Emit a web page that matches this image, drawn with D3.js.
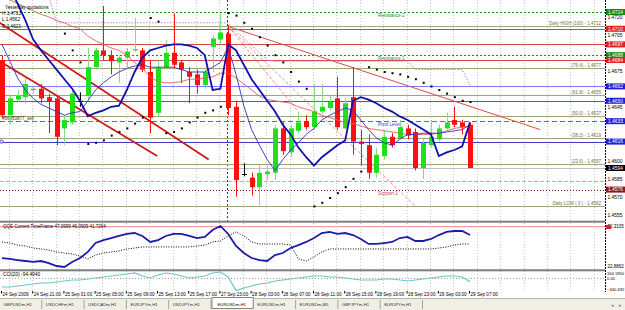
<!DOCTYPE html>
<html>
<head>
<meta charset="utf-8">
<script src="https://cdn.jsdelivr.net/npm/d3@7"></script>
<style>
  body { margin: 0; background: #fff; }
  svg { display: block; font-family: "Liberation Sans", Arial, sans-serif; }
  .axis path { display: none; }
</style>
</head>
<body>
<div id="chart"></div>
<script>
// ---- chart data (EURUSDm, H1) ----
var timeLabels = ["24 Sep 2009", "24 Sep 21:00", "25 Sep 01:00", "25 Sep 05:00", "25 Sep 09:00",
  "25 Sep 13:00", "25 Sep 17:00", "27 Sep 23:00", "28 Sep 03:00", "28 Sep 07:00", "28 Sep 11:00",
  "28 Sep 15:00", "28 Sep 19:00", "28 Sep 23:00", "29 Sep 03:00", "29 Sep 07:00"];

var open  = [1.4684,1.4638,1.4651,1.4653,1.4659,1.4660,1.4653,1.4652,1.4627,1.4632,1.4650,1.4654,1.4678,1.4692,1.4688,1.4682,1.4686,1.4692,1.4692,1.4674,1.4640,1.4678,1.4690,1.4682,1.4674,1.4672,1.4663,1.4695,1.4701,1.4706,1.4645,1.4589,1.4586,1.4578,1.4589,1.4590,1.4627,1.4607,1.4625,1.4633,1.4628,1.4641,1.4644,1.4652,1.4627,1.4653,1.4616,1.4613,1.4590,1.4604,1.4620,1.4619,1.4627,1.4624,1.4594,1.4613,1.4618,1.4627,1.4634,1.4632,1.4630];
var high  = [1.4688,1.4654,1.4659,1.4669,1.4661,1.4664,1.4656,1.4654,1.4638,1.4659,1.4657,1.4694,1.4694,1.4729,1.4692,1.4688,1.4694,1.4719,1.4694,1.4684,1.4684,1.4701,1.4723,1.4684,1.4678,1.4676,1.4678,1.4705,1.4723,1.4713,1.4650,1.4598,1.4590,1.4596,1.4596,1.4630,1.4632,1.4630,1.4641,1.4638,1.4664,1.4664,1.4654,1.4670,1.4652,1.4678,1.4626,1.4622,1.4611,1.4626,1.4623,1.4634,1.4630,1.4627,1.4618,1.4634,1.4630,1.4640,1.4645,1.4634,1.4632];
var low   = [1.4636,1.4630,1.4649,1.4648,1.4656,1.4648,1.4623,1.4613,1.4613,1.4630,1.4645,1.4650,1.4676,1.4684,1.4672,1.4665,1.4678,1.4691,1.4674,1.4623,1.4636,1.4676,1.4678,1.4665,1.4648,1.4656,1.4660,1.4674,1.4697,1.4638,1.4570,1.4587,1.4571,1.4563,1.4584,1.4584,1.4605,1.4603,1.4623,1.4626,1.4626,1.4639,1.4642,1.4626,1.4626,1.4605,1.4596,1.4585,1.4586,1.4601,1.4611,1.4618,1.4618,1.4592,1.4585,1.4611,1.4616,1.4626,1.4628,1.4622,1.4594];
var close = [1.4638,1.4652,1.4654,1.4664,1.4660,1.4652,1.4649,1.4620,1.4634,1.4656,1.4650,1.4678,1.4692,1.4688,1.4683,1.4686,1.4691,1.4693,1.4676,1.4636,1.4678,1.4690,1.4680,1.4676,1.4670,1.4663,1.4674,1.4702,1.4707,1.4644,1.4584,1.4589,1.4578,1.4590,1.4591,1.4627,1.4608,1.4627,1.4632,1.4628,1.4641,1.4645,1.4649,1.4628,1.4648,1.4616,1.4614,1.4590,1.4605,1.4620,1.4613,1.4628,1.4621,1.4594,1.4615,1.4620,1.4627,1.4632,1.4630,1.4628,1.4594];

// indicator buffers on the price chart
var maFast = [1.4759,1.4744,1.4731,1.4717,1.4701,1.4692,1.4684,1.4676,1.4668,1.4660,1.4650,1.4637,1.4640,1.4642,1.4645,1.4646,1.4659,1.4674,1.4686,1.4692,1.4694,1.4696,1.4697,1.4697,1.4696,1.4694,1.4688,1.4659,1.4660,1.4697,1.4692,1.4680,1.4668,1.4659,1.4650,1.4641,1.4630,1.4622,1.4611,1.4603,1.4596,1.4603,1.4608,1.4613,1.4617,1.4650,1.4653,1.4651,1.4648,1.4644,1.4641,1.4637,1.4634,1.4630,1.4626,1.4622,1.4604,1.4607,1.4609,1.4612,1.4632];
var maMid  = [1.4697,1.4683,1.4669,1.4659,1.4652,1.4647,1.4644,1.4641,1.4638,1.4640,1.4641,1.4650,1.4659,1.4665,1.4670,1.4674,1.4677,1.4679,1.4680,1.4678,1.4678,1.4678,1.4678,1.4676,1.4674,1.4674,1.4674,1.4678,1.4682,1.4695,1.4672,1.4646,1.4626,1.4613,1.4601,1.4592,1.4601,1.4609,1.4615,1.4622,1.4627,1.4634,1.4638,1.4641,1.4644,1.4642,1.4634,1.4626,1.4619,1.4615,1.4613,1.4618,1.4622,1.4622,1.4623,1.4623,1.4623,1.4624,1.4625,1.4626,1.4630];
var maSlow = [1.4739,1.4734,1.4731,1.4728,1.4725,1.4722,1.4720,1.4717,1.4715,1.4712,1.4710,1.4704,1.4700,1.4697,1.4694,1.4692,1.4688,1.4682,1.4677,1.4670,1.4666,1.4665,1.4665,1.4666,1.4668,1.4668,1.4669,1.4670,1.4673,1.4673,1.4669,1.4664,1.4659,1.4654,1.4651,1.4650,1.4649,1.4648,1.4645,1.4643,1.4641,1.4638,1.4636,1.4634,1.4632,1.4631,1.4629,1.4627,1.4626,1.4625,1.4624,1.4623,1.4622,1.4622,1.4622,1.4622,1.4623,1.4625,1.4627,1.4628,1.4629];
var envHigh = [null,null,null,null,null,null,1.4737,1.4715,1.4715,1.4715,1.4715,1.4715,1.4715,1.4715,1.4715,1.4715,1.4715,1.4715,1.4715,1.4715,1.4715,1.4715,1.4715,1.4715,1.4715,1.4715,1.4715,1.4715,1.4715,1.4715,1.4708,1.4702,1.4696,1.4690,1.4684,1.4683,1.4683,1.4683,1.4683,1.4683,1.4683,1.4683,1.4683,1.4683,1.4683,1.4683,1.4683,1.4683,1.4683,1.4683,1.4683,1.4683,1.4683,1.4676,1.4676,1.4676,1.4676,1.4676,1.4676,1.4676,1.4663];
var sar = [null,null,null,null,null,null,null,null,1.4706,1.4692,1.4682,1.4614,1.4615,1.4617,1.4621,1.4624,1.4627,1.4631,1.4636,1.4719,1.4716,1.4623,1.4624,1.4627,1.4632,1.4636,1.4640,1.4642,1.4645,1.4723,1.4721,1.4715,1.4710,1.4703,1.4696,1.4688,1.4682,1.4674,1.4666,1.4660,1.4562,1.4565,1.4569,1.4573,1.4578,1.4585,1.4591,1.4678,1.4676,1.4674,1.4673,1.4672,1.4670,1.4668,1.4665,1.4662,1.4659,1.4656,1.4653,1.4650,1.4649];

// sub windows
var qqeMain = [29.9,29.3,28.6,28.0,27.4,28.0,26.7,24.8,24.2,27.4,29.9,33.8,39.5,41.4,42.7,44.0,45.3,45.9,44.0,40.2,41.4,44.0,45.3,45.3,44.0,42.7,43.4,47.8,50.4,45.3,37.6,33.1,29.9,28.6,28.0,31.8,33.1,36.3,38.2,40.2,42.7,45.9,46.6,45.3,45.9,44.6,42.1,38.9,38.9,39.5,40.2,42.7,43.4,40.8,40.8,42.1,44.6,46.6,47.2,47.2,44.6];
var qqeSlow = [40.2,39.5,38.2,37.6,36.3,35.7,35.0,33.8,33.1,32.5,31.2,29.3,31.8,33.1,33.8,34.4,35.7,36.3,37.0,37.0,37.0,37.0,37.0,37.0,37.0,37.6,38.2,40.2,40.8,44.0,46.6,44.0,40.2,38.9,38.9,38.9,38.9,38.2,29.3,28.0,30.6,33.8,35.7,35.7,35.7,35.7,35.7,35.7,35.7,35.7,35.7,35.7,35.7,35.7,35.7,35.7,36.3,37.0,38.2,38.9,38.9];
var cci = [-234,-234,-208,-181,-155,-128,-128,-101,-75,-48,-48,-22,5,31,58,85,111,138,58,5,85,138,111,58,5,31,58,138,164,31,-330,-261,-208,-155,-128,-75,-48,-22,5,31,58,58,31,31,5,-22,-48,-48,-48,-22,-22,-48,-75,-48,-22,5,31,58,58,31,-94.494];

// axis values
var priceTicks = [1.4720, 1.4705, 1.4675, 1.4645, 1.4600, 1.4585, 1.4570, 1.4555];
var markerPrices = [1.4724, 1.4710, 1.4697, 1.4688, 1.4684, 1.4662, 1.4650, 1.4633, 1.4616, 1.4594, 1.4576];
var qqeRange = [22.8862, 52.3105];
var qqeLevel = 50;
var cciRange = [-340.492, 164.195];

// horizontal objects
var levelPrices = [1.4724, 1.4710, 1.4697, 1.4688, 1.4684, 1.4662, 1.4650, 1.4633, 1.4616, 1.4594, 1.4583, 1.4576];
var levelNames  = ["Resistance 2", "", "", "Resistance 1", "", "", "", "Pivot Level", "", "", "", "Support 1"];
var fibPrices = [1.4712, 1.4677, 1.4655, 1.4637, 1.4619, 1.4597, 1.4562];
var fibLabels = ["Daily HIGH (100) - 1.4712", "(76.4) - 1.4677", "(61.8) - 1.4655", "(50.0) - 1.4637",
  "(38.2) - 1.4619", "(23.6) - 1.4597", "Daily LOW ( 0 ) - 1.4562"];
// trend objects: [bar1, price1, bar2, price2]
var channelLines = [[-0.3, 1.4715, 26.5, 1.4601], [-0.3, 1.4683, 19.9, 1.4604]];
var trendLine = [29, 1.4712, 69, 1.4626];
var fanLines = [[29, 1.4712, 38, 1.4641], [29, 1.4712, 53, 1.4562]];
var separatorBar = 29;

var infoLines = ["Yesterday quotations", "H 1.4712", "L 1.4562", "C 1.4621"];
var orderLabel = "#56450877_sell";
var qqeTitle = "QQE Current TimeFrame 47.0999 46.0909 41.7264";
var cciTitle = "CCI(20) -94.4940";
var tabNames = ["GBPUSDm,H1", "USDCHFm,H1", "USDCADm,H1", "EURJPYm,H1", "USDJPYm,H1",
  "EURUSDm,H1", "EURUSDm,H1", "EURUSDm,M5", "GBPJPYm,H1", "EURJPYm,H1"];
var activeTab = 5;

// ---- styles (kept apart from the values) ----
var levelStyle = [
  {c: "#1f8f1f", d: "2,2"}, {c: "#d04848", d: null}, {c: "#d04848", d: null}, {c: "#1f8f1f", d: "2,2"},
  {c: "#d04848", d: null}, {c: "#7b7bff", d: null}, {c: "#5353d6", d: null}, {c: "#3f8f3f", d: "5,3"},
  {c: "#3b3bcc", d: null}, {c: "#c0c0c0", d: null}, {c: "#e8a27c", d: "4,2"}, {c: "#7a1010", d: "1,2"}];
var labelColor = ["#1f8f1f", "", "", "#1f8f1f", "", "", "", "#3b3bcc", "", "", "", "#cc3b3b"];
var markerFill = ["#138a13", "#e02020", "#e02020", "#138a13", "#e02020", "#2020d8", "#2020d8", "#2020d8", "#2020d8", "#000000", "#8b1a1a"];

var width = 625, height = 310, plotRight = 605;
var mainBottom = 221, qqeTop = 223, qqeBottom = 269, cciTop = 272, cciBottom = 291;

var svg = d3.select("#chart").append("svg")
  .attr("width", width)
  .attr("height", height)
  .style("font-size", "4.6px");

var xScale = d3.scaleLinear().domain([0, 60]).range([2, 470]);
var yScale = d3.scaleLinear().domain([1.454983, 1.4734]).range([mainBottom, 0]);
var yQQE = d3.scaleLinear().domain(qqeRange).range([qqeBottom, qqeTop]);
var yCCI = d3.scaleLinear().domain(cciRange).range([cciBottom, cciTop]);

var defs = svg.append("defs");
function clip(id, y0, y1) {
  defs.append("clipPath").attr("id", id).append("rect")
    .attr("x", 0).attr("y", y0).attr("width", plotRight).attr("height", y1 - y0);
}
clip("clipMain", 0, mainBottom);
clip("clipQQE", qqeTop, qqeBottom);
clip("clipCCI", cciTop - 1, cciBottom);

var main = svg.append("g").attr("clip-path", "url(#clipMain)");
var qqe = svg.append("g").attr("clip-path", "url(#clipQQE)");
var cciG = svg.append("g").attr("clip-path", "url(#clipCCI)");

// vertical grid every 3 bars
var gridBars = d3.range(1, 78, 3).filter(function(i) { return xScale(i) < plotRight; });
[[main, 0, mainBottom], [qqe, qqeTop, qqeBottom], [cciG, cciTop - 1, cciBottom]].forEach(function(p) {
  p[0].selectAll(".vgrid").data(gridBars).enter().append("line")
    .attr("x1", function(i) { return Math.round(xScale(i)) - 0.5; })
    .attr("x2", function(i) { return Math.round(xScale(i)) - 0.5; })
    .attr("y1", p[1]).attr("y2", p[2])
    .attr("stroke", "#c8c8c8").attr("stroke-dasharray", "1,2");
});

// period separator
main.append("line")
  .attr("x1", Math.round(xScale(separatorBar)) - 0.5).attr("x2", Math.round(xScale(separatorBar)) - 0.5)
  .attr("y1", 0).attr("y2", mainBottom)
  .attr("stroke", "#8b2020").attr("stroke-dasharray", "2,2");

// fibo levels
main.selectAll(".fib").data(fibPrices).enter().append("line")
  .attr("x1", 0).attr("x2", plotRight)
  .attr("y1", function(d) { return Math.round(yScale(d)) + 0.5; })
  .attr("y2", function(d) { return Math.round(yScale(d)) + 0.5; })
  .attr("stroke", "#a2a27c");
main.selectAll(".fibText").data(fibPrices).enter().append("text")
  .attr("x", 601).attr("y", function(d) { return yScale(d) - 1.2; })
  .attr("text-anchor", "end").attr("fill", "#6e6e4c").attr("font-size", 4.5)
  .text(function(d, i) { return fibLabels[i]; });

// horizontal level lines
main.selectAll(".level").data(levelPrices).enter().append("line")
  .attr("x1", 0).attr("x2", plotRight)
  .attr("y1", function(d) { return Math.round(yScale(d)) + 0.5; })
  .attr("y2", function(d) { return Math.round(yScale(d)) + 0.5; })
  .attr("stroke", function(d, i) { return levelStyle[i].c; })
  .attr("stroke-dasharray", function(d, i) { return levelStyle[i].d; });
main.selectAll(".levelText").data(levelPrices).enter().append("text")
  .attr("x", 378).attr("y", function(d) { return yScale(d) + 5; })
  .attr("fill", function(d, i) { return labelColor[i]; }).attr("font-size", 4.6)
  .text(function(d, i) { return levelNames[i]; });
main.append("circle")
  .attr("cx", 1.5).attr("cy", yScale(levelPrices[8])).attr("r", 1.6)
  .attr("fill", "#fff").attr("stroke", "#3b3bcc");
main.append("text")
  .attr("x", 2).attr("y", yScale(levelPrices[7]) - 1)
  .attr("fill", "#204020").attr("font-size", 4.5).text(orderLabel);

// trend objects
function seg(d) { return {x1: xScale(d[0]), y1: yScale(d[1]), x2: xScale(d[2]), y2: yScale(d[3])}; }
main.selectAll(".channel").data(channelLines).enter().append("line")
  .each(function(d) { var s = seg(d); d3.select(this).attr("x1", s.x1).attr("y1", s.y1).attr("x2", s.x2).attr("y2", s.y2); })
  .attr("stroke", "#d01818").attr("stroke-width", 1.8);
var t = seg(trendLine);
main.append("line").attr("x1", t.x1).attr("y1", t.y1).attr("x2", t.x2).attr("y2", t.y2)
  .attr("stroke", "#dc4a4a");
main.selectAll(".fan").data(fanLines).enter().append("line")
  .each(function(d) { var s = seg(d); d3.select(this).attr("x1", s.x1).attr("y1", s.y1).attr("x2", s.x2).attr("y2", s.y2); })
  .attr("stroke", "#f08c9c").attr("stroke-dasharray", "3,2");

// envelope (dotted magenta)
var lineOf = function(arr) {
  return d3.line().defined(function(d) { return d != null; })
    .x(function(d, i) { return xScale(i); })
    .y(function(d) { return yScale(d); })(arr);
};
main.append("path").attr("d", lineOf(envHigh))
  .attr("fill", "none").attr("stroke", "#e070e0").attr("stroke-dasharray", "1.5,1.5");

// candles
var bars = d3.range(open.length);
var candle = main.selectAll(".candle").data(bars).enter().append("g");
function candleColor(i) {
  if (close[i] > open[i]) return "#1ee01e";
  if (close[i] < open[i]) return "#ff1010";
  return "#000";
}
candle.append("line")
  .attr("x1", function(i) { return Math.round(xScale(i)) + 0.5; })
  .attr("x2", function(i) { return Math.round(xScale(i)) + 0.5; })
  .attr("y1", function(i) { return yScale(high[i]); })
  .attr("y2", function(i) { return yScale(low[i]); })
  .attr("stroke", function(i) { return close[i] > open[i] ? "#8ad88a" : candleColor(i); });
candle.append("rect")
  .attr("x", function(i) { return Math.round(xScale(i)) - 2; })
  .attr("width", 5)
  .attr("y", function(i) { return yScale(Math.max(open[i], close[i])); })
  .attr("height", function(i) { return Math.max(1, Math.abs(yScale(open[i]) - yScale(close[i]))); })
  .attr("fill", candleColor);

// moving averages
main.append("path").attr("d", lineOf(maSlow)).attr("fill", "none").attr("stroke", "#e06060").attr("stroke-width", 0.9);
main.append("path").attr("d", lineOf(maMid)).attr("fill", "none").attr("stroke", "#3030c0").attr("stroke-width", 0.9);
main.append("path").attr("d", lineOf(maFast)).attr("fill", "none").attr("stroke", "#1010b0").attr("stroke-width", 1.8);

// parabolic SAR
main.selectAll(".sar").data(bars.filter(function(i) { return sar[i] != null; })).enter().append("rect")
  .attr("x", function(i) { return xScale(i) - 0.5; })
  .attr("y", function(i) { return yScale(sar[i]) - 1; })
  .attr("width", 2).attr("height", 2).attr("fill", "#000");

// info block
svg.selectAll(".info").data(infoLines).enter().append("text")
  .attr("x", function(d, i) { return i === 0 ? 5 : 2; })
  .attr("y", function(d, i) { return 8.5 + i * 6.4; })
  .attr("fill", "#000").attr("font-size", 4.7).text(function(d) { return d; });

// ---- QQE window ----
qqe.append("line").attr("x1", 0).attr("x2", plotRight)
  .attr("y1", yQQE(qqeLevel)).attr("y2", yQQE(qqeLevel))
  .attr("stroke", "#f2a0a0").attr("stroke-width", 1.2);
var qLine = d3.line().x(function(d, i) { return xScale(i); }).y(function(d) { return yQQE(d); });
qqe.append("path").attr("d", qLine(qqeSlow)).attr("fill", "none")
  .attr("stroke", "#000").attr("stroke-dasharray", "1,1.5");
qqe.append("path").attr("d", qLine(qqeMain)).attr("fill", "none")
  .attr("stroke", "#1c1caa").attr("stroke-width", 1.8);
svg.append("text").attr("x", 3).attr("y", 227.5).attr("fill", "#000").attr("font-size", 4.5).text(qqeTitle);

// ---- CCI window ----
cciG.append("line").attr("x1", 0).attr("x2", plotRight)
  .attr("y1", Math.round(yCCI(0)) + 0.5).attr("y2", Math.round(yCCI(0)) + 0.5)
  .attr("stroke", "#a0a0a0").attr("stroke-dasharray", "1,2");
var cLine = d3.line().x(function(d, i) { return xScale(i); }).y(function(d) { return yCCI(d); });
cciG.append("path").attr("d", cLine(cci)).attr("fill", "none")
  .attr("stroke", "#6cc6c6").attr("stroke-width", 1.2);
svg.append("text").attr("x", 3).attr("y", 275.5).attr("fill", "#000").attr("font-size", 4.8).text(cciTitle);

// window separators
svg.append("rect").attr("x", 0).attr("y", 220.7).attr("width", plotRight).attr("height", 2).attr("fill", "#7d7d7d");
svg.append("rect").attr("x", 0).attr("y", 269.3).attr("width", plotRight).attr("height", 2).attr("fill", "#7d7d7d");

// right border
svg.append("line").attr("x1", plotRight + 0.5).attr("x2", plotRight + 0.5)
  .attr("y1", 0).attr("y2", cciBottom + 1)
  .attr("stroke", "#000").attr("stroke-dasharray", "2,1");

// ---- price axis ----
var yAxis = d3.axisRight(yScale).tickValues(priceTicks).tickSize(0).tickPadding(2.5)
  .tickFormat(d3.format(".4f"));
svg.append("g").attr("class", "axis").attr("transform", "translate(" + plotRight + ",0)")
  .call(yAxis)
  .call(function(g) { g.selectAll("text").attr("font-size", 4.9).attr("fill", "#000"); });

var marker = svg.selectAll(".marker").data(markerPrices).enter().append("g")
  .attr("transform", function(d) { return "translate(606," + yScale(d) + ")"; });
marker.append("rect").attr("x", 0).attr("y", -3).attr("width", 19).attr("height", 6)
  .attr("fill", function(d, i) { return markerFill[i]; });
marker.append("text").attr("x", 2).attr("y", 1.8).attr("fill", "#fff").attr("font-size", 4.9)
  .text(function(d) { return d3.format(".4f")(d); });

// QQE / CCI axis labels
var side = svg.append("g").attr("font-size", 4.5).attr("fill", "#000");
side.append("text").attr("x", 607.5).attr("y", 227.6).text(d3.format(".4f")(qqeRange[1]));
side.append("text").attr("x", 607.5).attr("y", 267.6).text(d3.format(".4f")(qqeRange[0]));
svg.append("rect").attr("x", 606).attr("y", yQQE(qqeLevel) - 1.5).attr("width", 5).attr("height", 4).attr("fill", "#e02020");
side.append("text").attr("x", 607).attr("y", 275).attr("font-size", 4.1).text(d3.format(".4f")(cciRange[1]));
side.append("text").attr("x", 607).attr("y", 279.8).attr("font-size", 4.1).text("0.00");
side.append("text").attr("x", 607).attr("y", 291).attr("font-size", 4.1).text(d3.format(".3f")(cciRange[0]));

// ---- time axis ----
var xAxis = d3.axisBottom(xScale).tickValues(d3.range(0, 61, 4)).tickSize(2.5).tickPadding(0.5)
  .tickFormat(function(d) { return timeLabels[d / 4]; });
svg.append("g").attr("class", "axis").attr("transform", "translate(0," + cciBottom + ")")
  .call(xAxis)
  .call(function(g) {
    g.selectAll("line").attr("stroke", "#000").attr("transform", "translate(-1,0)");
    g.selectAll("text").attr("font-size", 4.6).attr("fill", "#000")
      .attr("text-anchor", "start").attr("dy", "0.5em");
  });

// ---- tabs ----
var tabW = 42.3, tabTop = 298;
svg.append("rect").attr("x", 0).attr("y", tabTop).attr("width", width).attr("height", height - tabTop).attr("fill", "#f0efe6");
svg.append("line").attr("x1", 0).attr("x2", width).attr("y1", tabTop + 0.5).attr("y2", tabTop + 0.5).attr("stroke", "#b8b4a4");
var tab = svg.selectAll(".tab").data(tabNames).enter().append("g")
  .attr("transform", function(d, i) { return "translate(" + (i * tabW) + "," + tabTop + ")"; });
tab.filter(function(d, i) { return i === activeTab; }).append("rect")
  .attr("x", 0.5).attr("y", -0.5).attr("width", tabW - 1).attr("height", 11)
  .attr("fill", "#fff").attr("stroke", "#8c8878");
tab.append("line").attr("x1", tabW - 0.5).attr("x2", tabW - 0.5).attr("y1", 2).attr("y2", 11)
  .attr("stroke", "#a8a494");
tab.append("text").attr("x", function(d, i) { return i === activeTab ? 6 : 3.5; }).attr("y", 7.6)
  .attr("font-size", 4.3)
  .attr("fill", function(d, i) { return i === activeTab ? "#000" : "#333"; })
  .text(function(d) { return d; });
svg.append("text").attr("x", 610).attr("y", 306.5).attr("fill", "#888").attr("font-size", 4.5).text("\u25C4");
svg.append("text").attr("x", 618).attr("y", 306.5).attr("fill", "#888").attr("font-size", 4.5).text("\u25BA");
</script>
</body>
</html>
